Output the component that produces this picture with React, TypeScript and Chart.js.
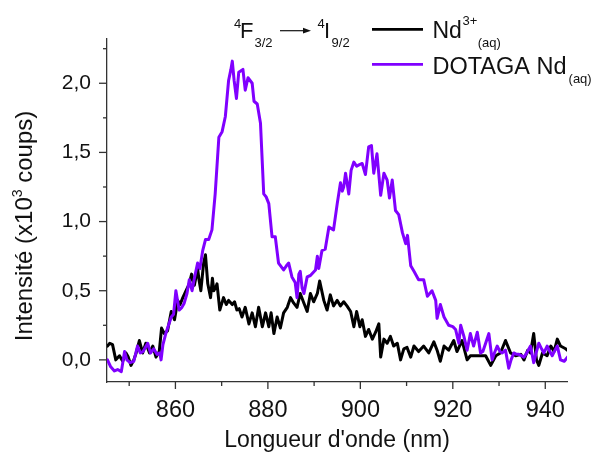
import React, { useEffect, useRef } from 'react';
import { Chart, registerables } from 'chart.js';

Chart.register(...registerables);

const FONT = '"Liberation Sans", Arial, Helvetica, sans-serif';
const TEXT = '#111111';
const AXIS = '#333333';
const PURPLE = '#8000ff';

// Nd3+(aq) spectrum
const BLACK_NM = [
  845.3, 845.8, 846.4, 847.1, 847.9, 848.6, 849.3, 849.8, 850.4, 851.0, 851.5, 852.2, 852.9, 853.6, 854.4,
  855.1, 855.8, 856.5, 857.0, 857.6, 858.3, 859.1, 859.8, 860.5, 861.0, 861.6, 862.3, 863.0, 863.5, 864.1,
  864.8, 865.1, 865.5, 866.1, 866.5, 867.0, 867.6, 868.0, 868.3, 868.8, 869.0, 869.6, 870.4, 871.0, 871.5,
  872.3, 872.8, 873.3, 873.8, 874.4, 875.1, 875.9, 876.6, 877.3, 878.0, 878.8, 879.5, 880.2, 880.7, 881.3,
  882.0, 882.7, 883.4, 884.2, 884.9, 885.6, 886.3, 887.0, 887.8, 888.5, 889.2, 889.9, 890.7, 891.2, 892.1,
  892.8, 893.5, 894.2, 895.0, 895.7, 896.4, 897.1, 897.9, 898.6, 899.2, 899.9, 900.4, 901.1, 901.8, 902.6,
  903.3, 904.0, 904.4, 905.1, 905.8, 906.5, 907.2, 908.0, 908.7, 909.4, 910.1, 910.9, 911.6, 912.6, 913.7,
  914.8, 915.9, 916.6, 917.3, 918.1, 919.1, 920.2, 920.9, 922.0, 923.1, 923.8, 924.9, 926.0, 927.1, 928.2,
  929.3, 930.3, 931.4, 932.5, 933.6, 934.7, 935.4, 936.2, 936.8, 937.5, 938.1, 938.6, 939.4, 940.4, 941.2,
  941.9, 942.6, 943.3, 944.4, 944.8,
];
const BLACK_I = [
  0.10, 0.12, 0.11, 0.00, 0.03, -0.01, 0.05, 0.02, -0.04, 0.00, 0.05, 0.14, 0.05, 0.12, 0.05,
  0.10, 0.02, 0.06, 0.23, 0.19, 0.21, 0.35, 0.29, 0.43, 0.40, 0.45, 0.50, 0.55, 0.62, 0.54,
  0.66, 0.58, 0.50, 0.70, 0.76, 0.55, 0.45, 0.59, 0.50, 0.53, 0.55, 0.36, 0.45, 0.40, 0.43,
  0.40, 0.42, 0.36, 0.37, 0.31, 0.38, 0.26, 0.34, 0.24, 0.38, 0.24, 0.34, 0.24, 0.34, 0.19,
  0.31, 0.23, 0.34, 0.38, 0.45, 0.41, 0.38, 0.48, 0.41, 0.35, 0.48, 0.42, 0.48, 0.57, 0.43,
  0.36, 0.47, 0.39, 0.43, 0.39, 0.42, 0.39, 0.35, 0.24, 0.35, 0.24, 0.29, 0.17, 0.22, 0.15,
  0.20, 0.26, 0.02, 0.15, 0.12, 0.17, 0.10, 0.12, 0.00, 0.08, 0.09, 0.02, 0.10, 0.06, 0.10,
  0.05, 0.13, 0.07, -0.01, 0.10, 0.07, 0.14, 0.06, 0.14, 0.00, 0.03, 0.03, 0.03, 0.03, -0.04,
  0.03, 0.05, 0.14, 0.05, 0.03, 0.04, 0.00, 0.07, 0.05, 0.19, 0.00, -0.04, 0.05, 0.03, 0.10,
  0.06, 0.15, 0.10, 0.08, 0.07,
];

// DOTAGA Nd(aq) spectrum
const DOTAGA_NM = [
  845.3, 846.0, 846.8, 847.5, 848.3, 849.0, 849.5, 850.2, 851.0, 851.8, 852.4, 853.0, 854.0, 854.6, 855.3,
  856.0, 856.6, 856.9, 857.3, 858.0, 859.1, 859.6, 860.1, 860.8, 861.4, 861.9, 862.5, 863.0, 863.6, 864.1,
  864.8, 865.3, 865.9, 866.5, 867.2, 867.9, 868.6, 869.4, 870.1, 870.8, 871.5, 872.0, 872.3, 872.7, 873.2,
  873.7, 874.6, 875.1, 875.7, 876.6, 877.0, 877.7, 878.4, 879.1, 879.6, 880.2, 880.9, 881.6, 882.3, 883.4,
  884.0, 884.5, 885.2, 885.9, 886.3, 886.7, 887.0, 887.4, 887.8, 888.5, 889.2, 890.3, 890.7, 891.0, 891.7,
  892.4, 893.2, 894.2, 895.0, 895.7, 896.1, 896.4, 896.8, 897.5, 898.0, 898.6, 899.2, 899.7, 900.4, 901.1,
  901.8, 902.4, 902.9, 903.6, 904.4, 905.1, 905.8, 906.3, 906.9, 907.6, 908.3, 909.1, 909.8, 910.2, 910.9,
  911.6, 912.6, 913.7, 914.5, 915.5, 916.3, 916.6, 917.3, 918.1, 919.1, 920.0, 920.6, 921.3, 921.7, 922.4,
  923.1, 923.8, 924.5, 925.3, 926.0, 926.5, 927.1, 927.8, 928.5, 929.0, 929.6, 930.2, 930.7, 931.4, 932.1,
  932.6, 933.2, 933.8, 934.3, 935.4, 936.0, 936.8, 937.5, 938.1, 938.6, 939.2, 939.7, 940.4, 941.0, 941.5,
  942.1, 942.6, 943.3, 944.1, 944.8,
];
const DOTAGA_I = [
  0.00, -0.05, -0.08, -0.07, -0.085, 0.06, 0.00, -0.02, -0.01, 0.10, 0.05, 0.06, 0.12, 0.05, 0.08,
  0.04, 0.05, 0.00, 0.11, 0.20, 0.31, 0.33, 0.50, 0.36, 0.38, 0.41, 0.48, 0.58, 0.50, 0.59,
  0.70, 0.66, 0.79, 0.87, 0.87, 0.94, 1.20, 1.61, 1.65, 1.76, 2.02, 2.10, 2.16, 2.02, 1.89,
  2.08, 2.10, 1.95, 2.04, 2.00, 1.87, 1.85, 1.71, 1.20, 1.18, 1.13, 0.89, 0.89, 0.70, 0.65,
  0.68, 0.70, 0.60, 0.56, 0.45, 0.62, 0.64, 0.52, 0.48, 0.60, 0.61, 0.65, 0.75, 0.66, 0.79,
  0.80, 0.96, 0.94, 1.13, 1.28, 1.22, 1.25, 1.35, 1.20, 1.37, 1.43, 1.40, 1.41, 1.42, 1.34,
  1.54, 1.55, 1.35, 1.49, 1.19, 1.35, 1.30, 1.17, 1.30, 1.08, 1.05, 0.92, 0.84, 0.90, 0.68,
  0.64, 0.58, 0.58, 0.46, 0.50, 0.43, 0.30, 0.40, 0.31, 0.25, 0.24, 0.22, 0.12, 0.25, 0.17,
  0.07, 0.19, 0.10, 0.20, 0.05, 0.06, 0.12, 0.19, 0.00, 0.05, 0.10, 0.06, 0.05, 0.07, -0.06,
  0.00, 0.05, 0.04, 0.04, 0.02, 0.05, 0.10, -0.02, 0.06, 0.12, 0.08, 0.05, 0.10, 0.06, 0.03,
  0.07, 0.10, 0.00, -0.01, 0.02,
];

const X_MAJOR = [860, 880, 900, 920, 940];
const X_MINOR = [850, 870, 890, 910, 930];
const Y_MAJOR = [0, 0.5, 1.0, 1.5, 2.0];
const Y_MINOR = [0.25, 0.75, 1.25, 1.75, 2.25];

const X_TITLE = "Longueur d'onde (nm)";
const Y_TITLE_A = 'Intensité (x10';
const Y_TITLE_SUP = '3';
const Y_TITLE_B = ' coups)';
const LEGEND_BLACK = 'Nd';
const LEGEND_BLACK_SUP = '3+';
const LEGEND_DOTAGA = 'DOTAGA Nd';
const LEGEND_SUB = '(aq)';

function f(size: number) {
  return `${size}px ${FONT}`;
}

const decorPlugin = {
  id: 'decor',
  afterDraw(chart: any) {
    const { ctx, chartArea } = chart;
    const x = chart.scales.x;
    const y = chart.scales.y;
    ctx.save();
    ctx.strokeStyle = AXIS;
    ctx.lineWidth = 1.3;
    const line = (x1: number, y1: number, x2: number, y2: number) => {
      ctx.beginPath();
      ctx.moveTo(x1, y1);
      ctx.lineTo(x2, y2);
      ctx.stroke();
    };
    X_MAJOR.forEach((v) => {
      const p = x.getPixelForValue(v);
      line(p, chartArea.bottom, p, chartArea.bottom + 7);
    });
    X_MINOR.forEach((v) => {
      const p = x.getPixelForValue(v);
      line(p, chartArea.bottom, p, chartArea.bottom + 4);
    });
    Y_MAJOR.forEach((v) => {
      const p = y.getPixelForValue(v);
      line(chartArea.left - 8, p, chartArea.left, p);
    });
    Y_MINOR.forEach((v) => {
      const p = y.getPixelForValue(v);
      line(chartArea.left - 4, p, chartArea.left, p);
    });

    ctx.fillStyle = TEXT;
    ctx.textBaseline = 'alphabetic';

    // x title
    ctx.font = f(23);
    ctx.textAlign = 'center';
    ctx.fillText(X_TITLE, (chartArea.left + chartArea.right) / 2, 447);

    // y title (rotated)
    ctx.save();
    ctx.translate(31.5, 226);
    ctx.rotate(-Math.PI / 2);
    ctx.textAlign = 'left';
    ctx.font = f(24);
    const wA = ctx.measureText(Y_TITLE_A).width;
    const wB = ctx.measureText(Y_TITLE_B).width;
    ctx.font = f(14);
    const wS = ctx.measureText(Y_TITLE_SUP).width;
    const total = wA + wS + wB;
    let cx = -total / 2;
    ctx.font = f(24);
    ctx.fillText(Y_TITLE_A, cx, 0);
    cx += wA;
    ctx.font = f(14);
    ctx.fillText(Y_TITLE_SUP, cx, -10);
    cx += wS;
    ctx.font = f(24);
    ctx.fillText(Y_TITLE_B, cx, 0);
    ctx.restore();

    // transition header 4F3/2 -> 4I9/2
    ctx.textAlign = 'left';
    ctx.font = f(13);
    ctx.fillText('4', 234, 28);
    ctx.font = f(22);
    ctx.fillText('F', 240, 38.3);
    let fx = 240 + ctx.measureText('F').width + 1;
    ctx.font = f(13);
    ctx.fillText('3/2', fx, 46.7);
    ctx.strokeStyle = TEXT;
    ctx.lineWidth = 1.2;
    line(280, 30.7, 305, 30.7);
    ctx.beginPath();
    ctx.moveTo(311, 30.7);
    ctx.lineTo(303, 27.8);
    ctx.lineTo(303, 33.6);
    ctx.closePath();
    ctx.fill();
    ctx.font = f(13);
    ctx.fillText('4', 317.5, 28);
    ctx.font = f(22);
    ctx.fillText('I', 324, 38.3);
    fx = 324 + ctx.measureText('I').width + 1.5;
    ctx.font = f(13);
    ctx.fillText('9/2', fx, 46.7);

    // legend
    ctx.lineWidth = 2.8;
    ctx.strokeStyle = '#000000';
    line(372, 29.3, 423, 29.3);
    ctx.strokeStyle = PURPLE;
    line(372, 64.3, 423, 64.3);
    ctx.font = f(23);
    ctx.fillText(LEGEND_BLACK, 432.5, 38.3);
    const wNd = ctx.measureText(LEGEND_BLACK).width;
    ctx.font = f(13);
    ctx.fillText(LEGEND_BLACK_SUP, 432.5 + wNd + 0.5, 25);
    const wSup = ctx.measureText(LEGEND_BLACK_SUP).width;
    ctx.fillText(LEGEND_SUB, 432.5 + wNd + wSup + 1, 46.7);
    ctx.font = f(23.5);
    ctx.fillText(LEGEND_DOTAGA, 432.5, 74);
    const wD = ctx.measureText(LEGEND_DOTAGA).width;
    ctx.font = f(13);
    ctx.fillText(LEGEND_SUB, 432.5 + wD + 2, 83);
    ctx.restore();
  },
};

export default function App() {
  const ref = useRef<HTMLCanvasElement | null>(null);
  useEffect(() => {
    if (!ref.current) return;
    const chart = new Chart(ref.current, {
      type: 'line',
      data: {
        datasets: [
          {
            label: 'DOTAGA Nd(aq)',
            data: DOTAGA_NM.map((v, i) => ({ x: v, y: DOTAGA_I[i] })),
            borderColor: PURPLE,
            borderWidth: 3,
            pointRadius: 0,
            tension: 0,
            order: 0,
          },
          {
            label: 'Nd3+(aq)',
            data: BLACK_NM.map((v, i) => ({ x: v, y: BLACK_I[i] })),
            borderColor: '#000000',
            borderWidth: 3,
            pointRadius: 0,
            tension: 0,
            order: 1,
          },
        ],
      },
      options: {
        responsive: false,
        animation: false,
        events: [],
        layout: { padding: { left: 0, right: 28, top: 39, bottom: 0 } },
        plugins: { legend: { display: false }, tooltip: { enabled: false }, title: { display: false } },
        elements: { line: { borderJoinStyle: 'round', borderCapStyle: 'round' } },
        scales: {
          x: {
            type: 'linear',
            min: 845.2,
            max: 944.7,
            afterFit: (s: any) => { s.height = 72; },
            afterBuildTicks: (s: any) => { s.ticks = X_MAJOR.map((v) => ({ value: v })); },
            grid: { display: false, drawTicks: false },
            border: { display: true, color: AXIS, width: 1.3 },
            ticks: {
              padding: 14,
              color: TEXT,
              font: { family: FONT, size: 23.5 },
              maxRotation: 0,
              autoSkip: false,
              callback: (v: any) => String(v),
            },
          },
          y: {
            type: 'linear',
            min: -0.16,
            max: 2.32,
            afterFit: (s: any) => { s.width = 107; },
            afterBuildTicks: (s: any) => { s.ticks = Y_MAJOR.map((v) => ({ value: v })); },
            grid: { display: false, drawTicks: false },
            border: { display: true, color: AXIS, width: 1.3 },
            ticks: {
              padding: 16,
              color: TEXT,
              font: { family: FONT, size: 21 },
              autoSkip: false,
              callback: (v: any) => Number(v).toFixed(1).replace('.', ','),
            },
          },
        },
      },
      plugins: [decorPlugin],
    });
    return () => chart.destroy();
  }, []);
  return (
    <div style={{ position: 'fixed', left: 0, top: 0, width: 595, height: 454, background: '#fff' }}>
      <canvas ref={ref} width={595} height={454} style={{ display: 'block' }} />
    </div>
  );
}
